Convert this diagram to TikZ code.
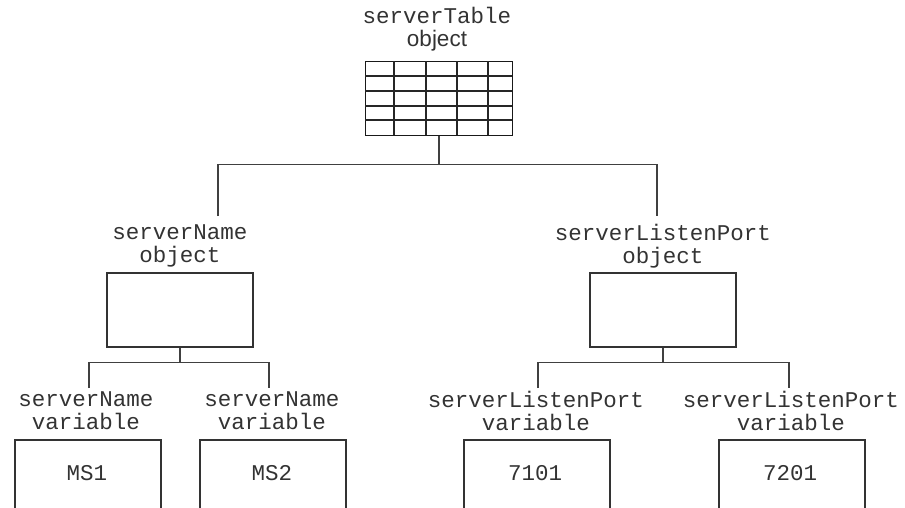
\documentclass[tikz,border=0pt]{standalone}
\usepackage{fontspec}
\setmainfont{Liberation Sans}
\setmonofont{Liberation Mono}
\begin{document}
\begin{tikzpicture}[x=1pt,y=-1pt,
  lbl/.style={font=\ttfamily\fontsize{22.5}{23}\selectfont, text=black!80, align=center, inner sep=0pt},
  box/.style={draw=black!80, line width=1.6pt, minimum width=146pt, inner sep=0pt, anchor=north west},
  wire/.style={draw=black!75, line width=1.7pt},
  gridline/.style={draw=black!85, line width=1.4pt}]
\useasboundingbox (0,0) rectangle (905,507);
\clip (0,0) rectangle (905,507);

% top
\node[lbl] (t0) at (437,29) {serverTable\\{\rmfamily object}};
\node[box, minimum width=147pt, minimum height=74pt, draw=black!90, line width=1.4pt] (tbl) at (365,61) {};
\foreach \x in {394,426,457,488} \draw[gridline] (\x,61) -- (\x,135);
\foreach \y in {76,91,106,120} \draw[gridline] (365,\y) -- (512,\y);

% level 1
\node[lbl] (la) at (180,246) {serverName\\object};
\node[box, minimum height=74pt] (ba) at (106,272) {};
\node[lbl] (lb) at (663,246) {serverListenPort\\object};
\node[box, minimum height=74pt] (bb) at (589,272) {};

\coordinate (ea) at (218,216);
\coordinate (eb) at (657,216);
\draw[wire] (tbl.south) -- ++(0,28) coordinate (j0);
\draw[wire] (ea) |- (j0) -| (eb);

% level 2 left
\draw[wire] (ba.south) -- ++(0,15) coordinate (ja);
\coordinate (ea1) at (89,388);
\coordinate (ea2) at (269,388);
\draw[wire] (ea1) |- (ja) -| (ea2);
\node[lbl] (la1) at (86,411) {serverName\\variable};
\node[lbl] (la2) at (272,411) {serverName\\variable};
\node[box, minimum height=100pt] (ba1) at (14,439) {};
\node[box, minimum height=100pt] (ba2) at (199,439) {};
\node[lbl] (va1) at (87,473) {MS1};
\node[lbl] (va2) at (272,473) {MS2};

% level 2 right
\draw[wire] (bb.south) -- ++(0,15) coordinate (jb);
\coordinate (eb1) at (538,388);
\coordinate (eb2) at (789,388);
\draw[wire] (eb1) |- (jb) -| (eb2);
\node[lbl] (lb1) at (536,411) {serverListenPort\\variable};
\node[lbl] (lb2) at (791,411) {serverListenPort\\variable};
\node[box, minimum height=100pt] (bb1) at (463,439) {};
\node[box, minimum height=100pt] (bb2) at (718,439) {};
\node[lbl] (vb1) at (535,473) {7101};
\node[lbl] (vb2) at (790,473) {7201};
\end{tikzpicture}
\end{document}
